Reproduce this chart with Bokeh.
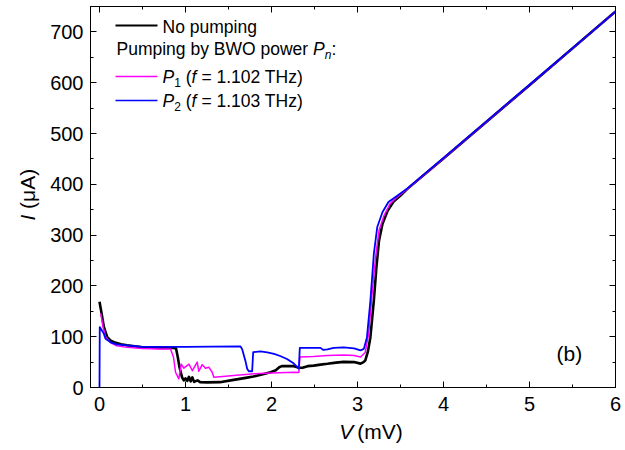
import math
from bokeh.plotting import figure
from bokeh.layouts import row, column
from bokeh.models import Range1d, SingleIntervalTicker, LinearAxis, Label, CustomJSTickFormatter
from bokeh.embed import file_html
from bokeh.resources import INLINE

# ---------------- data ----------------
v_nopump = [0.0, 0.02, 0.05, 0.09, 0.13, 0.17, 0.25, 0.32, 0.5, 0.7, 0.86, 0.89, 0.91, 0.93,
            0.96, 0.98, 1.0, 1.02, 1.04, 1.06, 1.08, 1.10, 1.14, 1.17, 1.25, 1.4, 1.56, 1.7,
            1.79, 1.9, 1.99, 2.05, 2.09, 2.12, 2.26, 2.32, 2.36, 2.42, 2.49, 2.57, 2.65, 2.75,
            2.84, 2.96, 3.035, 3.07, 3.09, 3.12, 3.15, 3.19, 3.22, 3.25, 3.29, 3.35, 3.42,
            3.5, 3.58, 4.0, 5.0, 6.0]
i_nopump = [169, 150, 120, 99, 92, 89, 85, 83, 79, 78, 78, 77, 60, 40,
            20, 14, 18, 13, 21, 12, 20, 11, 14, 10.5, 10, 10.5, 15, 19,
            21.6, 26, 30, 34, 40, 42, 42, 39, 39, 42, 43, 45, 46.6, 49,
            50.5, 50, 47, 50, 53, 70, 99, 171, 237, 289, 322, 348, 366,
            378, 391, 451, 595, 740]

v_p1 = [0.015, 0.04, 0.07, 0.13, 0.2, 0.32, 0.5, 0.7, 0.826, 0.86, 0.884, 0.922, 0.95,
        0.98, 1.04, 1.08, 1.136, 1.155, 1.194, 1.233, 1.271, 1.31, 1.33, 1.4, 1.56, 1.8,
        2.0, 2.26, 2.318, 2.33, 2.49, 2.647, 2.84, 2.96, 3.035, 3.09, 3.13, 3.17, 3.21,
        3.25, 3.31, 3.38, 3.45, 3.58, 4.0, 5.0, 6.0]
i_p1 = [146, 120, 100, 88, 82, 79, 77, 76, 76, 60, 30, 17, 46,
        38, 46, 33, 50, 32, 45, 38, 40, 30, 20, 21, 23.6, 27,
        28.5, 30, 29.5, 60, 61, 63, 64, 63, 60, 69, 106, 185, 256,
        309, 339, 362, 373, 391, 451, 595, 740]

v_p2 = [0.0, 0.003, 0.01, 0.05, 0.07, 0.13, 0.2, 0.32, 0.5, 0.7, 1.0, 1.3, 1.64, 1.66,
        1.7, 1.717, 1.736, 1.775, 1.787, 1.87, 1.95, 2.03, 2.1, 2.18, 2.26, 2.318, 2.329,
        2.57, 2.6, 2.65, 2.725, 2.84, 2.96, 3.035, 3.074, 3.11, 3.15, 3.19, 3.23, 3.29,
        3.36, 3.45, 3.58, 4.0, 5.0, 6.0]
i_p2 = [0, 119, 117, 106, 96, 89, 85, 83, 80, 80, 80, 80.5, 80.7, 75,
        50, 37, 32, 32, 69.5, 71, 69, 66, 62, 56, 47, 37, 78,
        78, 74, 75, 78, 79, 77, 73, 76, 99, 171, 263, 316, 345,
        365, 376, 392, 452, 596, 740]

x_ticks_interval = 1
y_ticks_interval = 100

# ---------------- layout helpers ----------------
FONT = "Liberation Sans"
W, H = 625, 450
LEFT_W = 45          # strip holding the y-axis title
BOTTOM_H = 30        # strip holding the x-axis title
FRAME_L, FRAME_R, FRAME_T, FRAME_B = 90, 615, 6, 387
PX_PER_X = 86.0      # px per mV
PX_PER_Y = 0.508     # px per uA
X0_PX = 99.0         # window px of V = 0
Y0_PX = 387.0        # window px of I = 0
TXT_DY = -7          # baseline correction for Label texts


def dx(px):
    return (px - X0_PX) / PX_PER_X


def dy(py):
    return (Y0_PX - py) / PX_PER_Y


MAIN_W, MAIN_H = W - LEFT_W, H - BOTTOM_H
p = figure(width=MAIN_W, height=MAIN_H,
           x_range=Range1d(dx(FRAME_L), dx(FRAME_R)), y_range=Range1d(0, dy(FRAME_T)),
           output_backend="svg", toolbar_location=None,
           min_border_left=FRAME_L - LEFT_W, min_border_right=W - FRAME_R,
           min_border_top=FRAME_T, min_border_bottom=MAIN_H - FRAME_B)
p.grid.visible = False
p.outline_line_color = "black"
p.background_fill_color = "white"
p.border_fill_color = "white"

xt = SingleIntervalTicker(interval=x_ticks_interval, num_minor_ticks=2)
yt = SingleIntervalTicker(interval=y_ticks_interval, num_minor_ticks=2)


def style_axis(ax):
    ax.axis_line_color = "black"
    ax.axis_line_width = 1
    ax.major_tick_in = 6
    ax.major_tick_out = 0
    ax.minor_tick_in = 3
    ax.minor_tick_out = 0
    ax.major_tick_line_color = "black"
    ax.minor_tick_line_color = "black"
    ax.major_label_text_font = FONT
    ax.major_label_text_font_size = "20px"
    ax.major_label_text_color = "black"


p.xaxis.ticker = xt
p.yaxis.ticker = yt
for ax in p.xaxis + p.yaxis:
    style_axis(ax)
p.xaxis.major_label_standoff = 9
p.yaxis.major_label_standoff = 7

blank = CustomJSTickFormatter(code="return ''")
top = LinearAxis(ticker=xt, formatter=blank, major_label_standoff=0)
right = LinearAxis(ticker=yt, formatter=blank, major_label_standoff=0)
for ax in (top, right):
    style_axis(ax)
    ax.major_label_text_font_size = "1px"
p.add_layout(top, "above")
p.add_layout(right, "right")

# ---------------- curves ----------------
p.line(v_nopump, i_nopump, line_color="black", line_width=2.6, line_join="round")
p.line(v_p1, i_p1, line_color="#FF00FF", line_width=1.5, line_join="round")
p.line(v_p2, i_p2, line_color="#0000FF", line_width=1.8, line_join="round")


# ---------------- texts ----------------
def lab(fig, x, y, text, size="17.5px", style="normal", angle=0.0, baseline="alphabetic"):
    fig.add_layout(Label(x=x, y=y, text=text, text_font=FONT,
                         text_font_size=size, text_font_style=style, text_color="black",
                         text_align="left", text_baseline=baseline, angle=angle))


def mlab(px, py, text, **kw):
    lab(p, dx(px), dy(py + TXT_DY), text, **kw)


# legend
p.line([dx(115), dx(157)], [dy(25), dy(25)], line_color="black", line_width=2.2)
p.line([dx(115), dx(157)], [dy(76), dy(76)], line_color="#FF00FF", line_width=1.5)
p.line([dx(115), dx(157)], [dy(100), dy(100)], line_color="#0000FF", line_width=1.5)

mlab(162, 33, "No pumping")
mlab(116, 55, "Pumping by BWO power")
mlab(312.5, 55, "P", style="italic")
mlab(324.2, 61, "n", size="12px", style="italic")
mlab(331.0, 55, ":")

for base, sub, freq in ((83, "1", "= 1.102 THz)"), (107, "2", "= 1.103 THz)")):
    mlab(162, base, "P", style="italic")
    mlab(173.7, base + 6, sub, size="12px")
    mlab(185.3, base, "(")
    mlab(191.1, base, "f", style="italic")
    mlab(200.9, base, freq)

# panel label
mlab(556, 360, "(b)", size="21px")


# ---------------- axis titles in their own strips ----------------
def strip(width, height):
    f = figure(width=width, height=height, x_range=Range1d(0, width), y_range=Range1d(0, height),
               output_backend="svg", toolbar_location=None,
               x_axis_location=None, y_axis_location=None, min_border=0)
    f.grid.visible = False
    f.outline_line_color = None
    f.background_fill_color = "white"
    f.border_fill_color = "white"
    return f


pb = strip(MAIN_W, BOTTOM_H)
# window coordinates -> strip coordinates
lab(pb, 319.8 - LEFT_W, H - (438 + TXT_DY), "V", size="21px", style="italic")
lab(pb, 339.6 - LEFT_W, H - (438 + TXT_DY), "(mV)", size="21px")

pl = strip(LEFT_W, H)
lab(pl, 27, H - 220, "I", size="21px", style="italic", angle=math.pi / 2, baseline="middle")
lab(pl, 27, H - 208.4, "(\u03bcA)", size="21px", angle=math.pi / 2, baseline="middle")

layout = row(pl, column(p, pb))
open("out.html", "w").write(file_html(layout, INLINE))
